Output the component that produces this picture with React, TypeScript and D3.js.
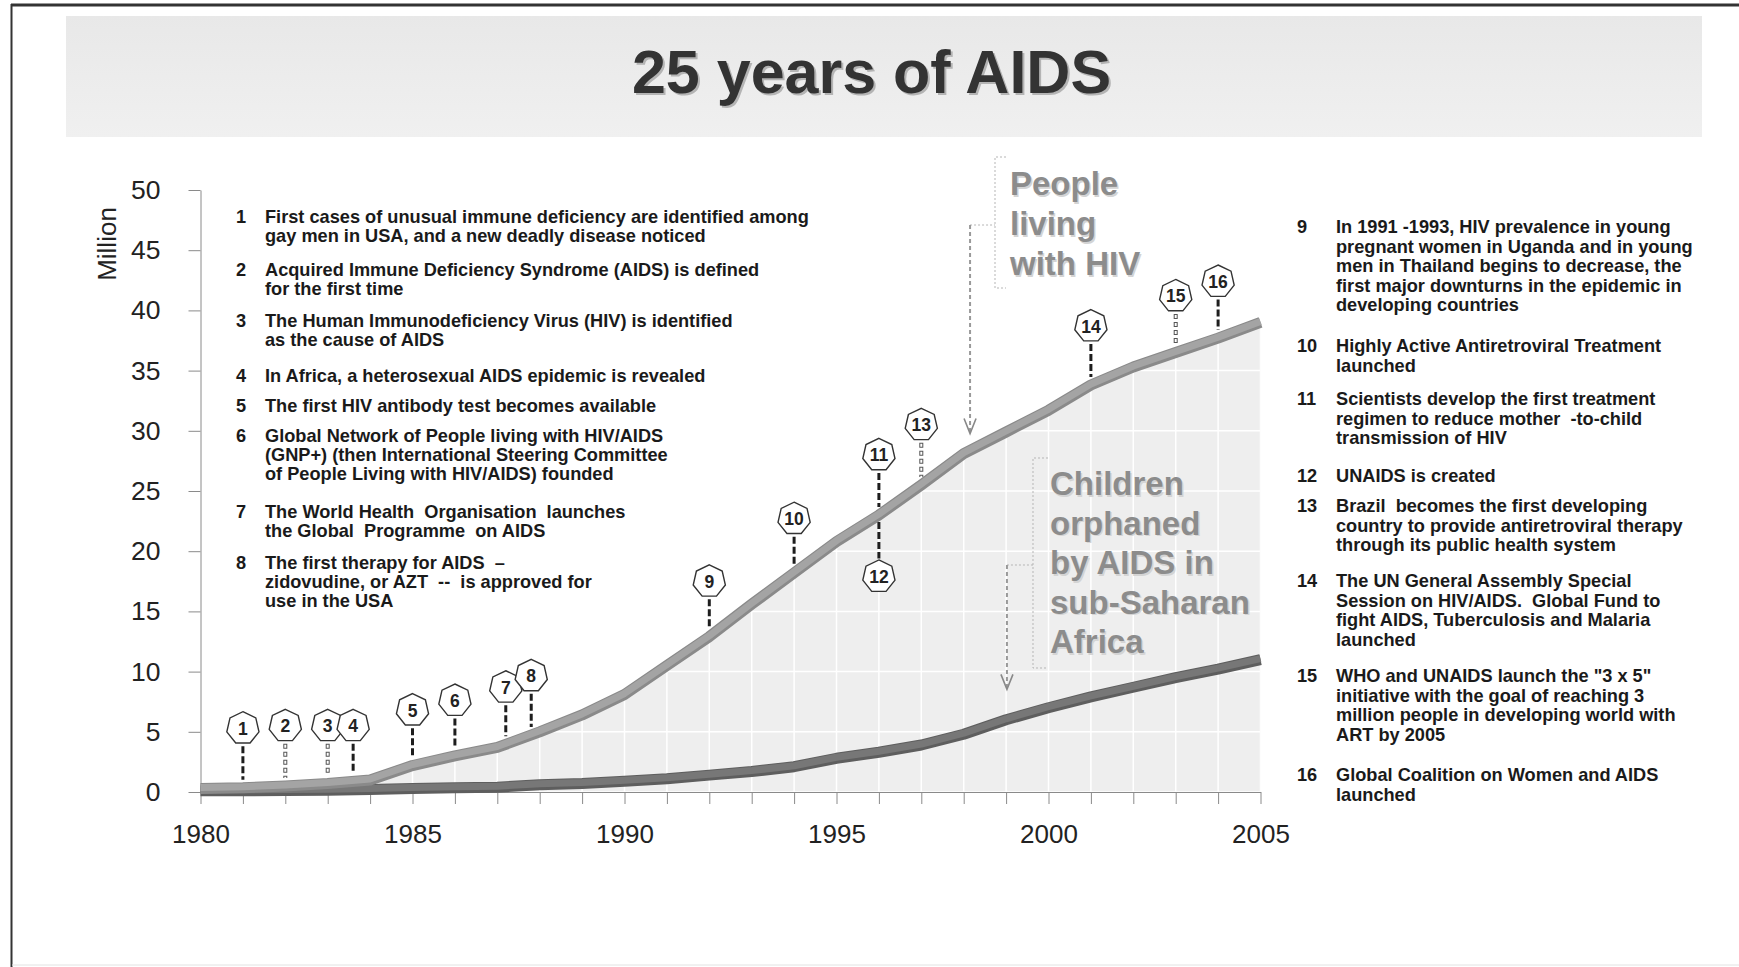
import { useEffect, useRef } from "react";
import * as d3 from "d3";

// ---- data (millions) ----
const years = [1980, 1981, 1982, 1983, 1984, 1985, 1986, 1987, 1988, 1989, 1990, 1991, 1992,
  1993, 1994, 1995, 1996, 1997, 1998, 1999, 2000, 2001, 2002, 2003, 2004, 2005];
const peopleLivingWithHIV = [0.3, 0.35, 0.5, 0.7, 1.0, 2.2, 3.0, 3.7, 5.0, 6.4, 8.1, 10.5, 12.9,
  15.6, 18.2, 20.8, 23.0, 25.5, 28.1, 29.9, 31.7, 33.8, 35.3, 36.5, 37.7, 39.0];
const childrenOrphaned = [0.1, 0.1, 0.12, 0.15, 0.2, 0.3, 0.35, 0.4, 0.6, 0.7, 0.9, 1.1, 1.4,
  1.7, 2.1, 2.8, 3.3, 3.9, 4.8, 6.0, 7.0, 7.9, 8.7, 9.5, 10.2, 11.0];
const yTicks = [0, 5, 10, 15, 20, 25, 30, 35, 40, 45, 50];
const xLabelYears = [1980, 1985, 1990, 1995, 2000, 2005];

// milestone badges: number, year, badge level (million)
const eventNumbers = [1, 2, 3, 4, 5, 6, 7, 8, 9, 10, 11, 12, 13, 14, 15, 16];
const eventYears = [1981, 1982, 1983, 1983.6, 1985, 1986, 1987.2, 1987.8, 1992, 1994, 1996, 1996, 1997, 2001, 2003, 2004];
const badgeLevels = [5.3, 5.5, 5.5, 5.5, 6.8, 7.6, 8.7, 9.65, 17.5, 22.7, 28.0, 17.9, 30.5, 38.7, 41.2, 42.4];
const hollowEvents = [2, 3, 13, 15];
const belowEvents = [12];

const leftNotes = [
  ["First cases of unusual immune deficiency are identified among", "gay men in USA, and a new deadly disease noticed"],
  ["Acquired Immune Deficiency Syndrome (AIDS) is defined", "for the first time"],
  ["The Human Immunodeficiency Virus (HIV) is identified", "as the cause of AIDS"],
  ["In Africa, a heterosexual AIDS epidemic is revealed"],
  ["The first HIV antibody test becomes available"],
  ["Global Network of People living with HIV/AIDS", "(GNP+) (then International Steering Committee", "of People Living with HIV/AIDS) founded"],
  ["The World Health  Organisation  launches", "the Global  Programme  on AIDS"],
  ["The first therapy for AIDS  \u2013", "zidovudine, or AZT  --  is approved for", "use in the USA"],
];
const rightNotes = [
  ["In 1991 -1993, HIV prevalence in young", "pregnant women in Uganda and in young", "men in Thailand begins to decrease, the", "first major downturns in the epidemic in", "developing countries"],
  ["Highly Active Antiretroviral Treatment", "launched"],
  ["Scientists develop the first treatment", "regimen to reduce mother  -to-child", "transmission of HIV"],
  ["UNAIDS is created"],
  ["Brazil  becomes the first developing", "country to provide antiretroviral therapy", "through its public health system"],
  ["The UN General Assembly Special", "Session on HIV/AIDS.  Global Fund to", "fight AIDS, Tuberculosis and Malaria", "launched"],
  ["WHO and UNAIDS launch the \"3 x 5\"", "initiative with the goal of reaching 3", "million people in developing world with", "ART by 2005"],
  ["Global Coalition on Women and AIDS", "launched"],
];
const hivLabel = ["People", "living", "with HIV"];
const orphanLabel = ["Children", "orphaned", "by AIDS in", "sub-Saharan", "Africa"];

// ---- layout ----
const W = 1739;
const H = 967;
const leftNoteY = [223, 276, 327, 382, 412, 442, 518, 569];
const rightNoteY = [233, 352, 405, 482, 512, 587, 682, 781];
const FONT = "'Liberation Sans', Arial, sans-serif";

const x = d3.scaleLinear().domain([1980, 2005]).range([200.5, 1260.5]);
const y = d3.scaleLinear().domain([0, 50]).range([792, 190]);
const hivAt = d3.scaleLinear().domain(years).range(peopleLivingWithHIV);
const orphAt = d3.scaleLinear().domain(years).range(childrenOrphaned);

const hivPts = years.map((yr, i) => [yr, peopleLivingWithHIV[i]] as [number, number]);
const orphPts = years.map((yr, i) => [yr, childrenOrphaned[i]] as [number, number]);
const line = d3.line<[number, number]>().x((d) => x(d[0])).y((d) => y(d[1]));
const area = d3.area<[number, number]>().x((d) => x(d[0])).y0(y(0)).y1((d) => y(d[1]));

const heptagon = (cx: number, cy: number, r: number) =>
  d3.range(7).map((i) => {
    const a = -Math.PI / 2 + (i * 2 * Math.PI) / 7;
    return `${cx + r * Math.cos(a)},${cy + r * Math.sin(a)}`;
  }).join(" ");

export default function App() {
  const xAxisRef = useRef<SVGGElement>(null);
  const yAxisRef = useRef<SVGGElement>(null);

  useEffect(() => {
    const ya = d3.select(yAxisRef.current!);
    ya.call(d3.axisLeft(y).tickValues(yTicks).tickSize(12).tickSizeOuter(0).tickPadding(28));
    ya.selectAll("text").attr("font-size", 26.5).attr("font-family", FONT).attr("fill", "#222");
    ya.selectAll("line, path").attr("stroke", "#8a8a8a");

    const xa = d3.select(xAxisRef.current!);
    xa.call(
      d3.axisBottom(x).tickValues(years).tickSize(12).tickSizeOuter(0).tickPadding(21)
        .tickFormat((d) => (xLabelYears.includes(+d) ? String(d) : ""))
    );
    xa.selectAll("text").attr("font-size", 26).attr("font-family", FONT).attr("fill", "#222");
    xa.selectAll("line, path").attr("stroke", "#8a8a8a");
  }, []);

  const arrowHiv = { yr: 1998.15 };
  const arrowOrph = { yr: 1999.02 };
  const hivTip = y(hivAt(arrowHiv.yr) + 1.4);
  const orphTip = y(orphAt(arrowOrph.yr) + 2.5);

  return (
    <div style={{ position: "absolute", left: 0, top: 0 }}>
      <svg width={W} height={H} style={{ display: "block", background: "#fff" }}>
        <defs>
          <linearGradient id="band" x1="0" y1="0" x2="0" y2="1">
            <stop offset="0" stopColor="#e8e8e8" />
            <stop offset="1" stopColor="#f0f0f0" />
          </linearGradient>
          <clipPath id="underHiv">
            <path d={area(hivPts) ?? ""} />
          </clipPath>
        </defs>

        {/* frame */}
        <line x1={11} x2={W} y1={5} y2={5} stroke="#333" strokeWidth={3} />
        <line x1={11.5} x2={11.5} y1={4} y2={H} stroke="#333" strokeWidth={2} />
        <line x1={12} x2={W} y1={965} y2={965} stroke="#e2e2e2" strokeWidth={1} />

        {/* title band */}
        <rect x={66} y={16} width={1636} height={121} fill="url(#band)" />
        <text x={873.5} y={95} textAnchor="middle" fontFamily={FONT} fontWeight="bold" fontSize={61} fill="#b4b4b4">25 years of AIDS</text>
        <text x={871.5} y={93} textAnchor="middle" fontFamily={FONT} fontWeight="bold" fontSize={61} fill="#333">25 years of AIDS</text>

        {/* shaded area under HIV curve with white grid */}
        <g clipPath="url(#underHiv)">
          <rect x={x(1980)} y={y(50)} width={x(2005) - x(1980)} height={y(0) - y(50)} fill="#eeeeee" />
          {years.map((yr) => (
            <line key={yr} x1={x(yr)} x2={x(yr)} y1={y(50)} y2={y(0)} stroke="#fff" strokeWidth={1.5} />
          ))}
          {yTicks.map((t) => (
            <line key={t} x1={x(1980)} x2={x(2005)} y1={y(t)} y2={y(t)} stroke="#fff" strokeWidth={1.5} />
          ))}
        </g>

        <g ref={yAxisRef} transform={`translate(${x(1980)},0)`} />
        <g ref={xAxisRef} transform={`translate(0,${y(0)})`} />
        <text transform={`translate(116,244) rotate(-90)`} textAnchor="middle" fontFamily={FONT} fontSize={26} fill="#222">Million</text>

        {/* series lines */}
        <path d={line(orphPts) ?? ""} fill="none" stroke="#5e5e5e" strokeWidth={11} strokeLinejoin="round" />
        <path d={line(orphPts) ?? ""} fill="none" stroke="#777" strokeWidth={7} strokeLinejoin="round" transform="translate(0,-1)" />
        <path d={line(hivPts) ?? ""} fill="none" stroke="#8a8a8a" strokeWidth={11} strokeLinejoin="round" />
        <path d={line(hivPts) ?? ""} fill="none" stroke="#a4a4a4" strokeWidth={7} strokeLinejoin="round" transform="translate(0,-1)" />

        {/* milestone badges */}
        {eventNumbers.map((n, i) => {
          const cx = x(eventYears[i]);
          const cy = y(badgeLevels[i]);
          const curve = y(hivAt(eventYears[i]));
          const below = belowEvents.includes(n);
          const y1 = below ? curve + 7 : cy + 18;
          const y2 = below ? cy - 18 : curve - 8;
          const hollow = hollowEvents.includes(n);
          return (
            <g key={n}>
              {hollow ? (
                <>
                  <line x1={cx} x2={cx} y1={y1} y2={y2} stroke="#555" strokeWidth={4} strokeDasharray="5 3" />
                  <line x1={cx} x2={cx} y1={y1 + 1} y2={y2} stroke="#fff" strokeWidth={2} strokeDasharray="3 5" />
                </>
              ) : (
                <line x1={cx} x2={cx} y1={y1} y2={y2} stroke="#1e1e1e" strokeWidth={3} strokeDasharray="7 3" />
              )}
              <polygon points={heptagon(cx, cy, 16.5)} fill="#fff" stroke="#333" strokeWidth={1.4} />
              <text x={cx} y={cy + 6.5} textAnchor="middle" fontFamily={FONT} fontWeight="bold" fontSize={17.5} fill="#222">{n}</text>
            </g>
          );
        })}

        {/* People living with HIV label + arrow */}
        <g stroke="#b5b5b5" strokeWidth={1} strokeDasharray="2 2" fill="none">
          <polyline points={`1006,157 995,157 995,288 1006,288`} />
          <line x1={x(arrowHiv.yr)} x2={995} y1={225} y2={225} />
        </g>
        <line x1={x(arrowHiv.yr)} x2={x(arrowHiv.yr)} y1={225} y2={hivTip - 2} stroke="#999" strokeWidth={2} strokeDasharray="4 3" />
        <polyline points={`${x(arrowHiv.yr) - 6},${hivTip - 15} ${x(arrowHiv.yr)},${hivTip} ${x(arrowHiv.yr) + 6},${hivTip - 15}`} fill="none" stroke="#888" strokeWidth={1.6} />
        {hivLabel.map((s, i) => (
          <g key={s}>
            <text x={1011.5} y={196.5 + i * 40} fontFamily={FONT} fontWeight="bold" fontSize={33} fill="#d4d4d4">{s}</text>
            <text x={1010} y={195 + i * 40} fontFamily={FONT} fontWeight="bold" fontSize={33} fill="#8c8c8c">{s}</text>
          </g>
        ))}

        {/* Children orphaned label + arrow */}
        <g stroke="#b5b5b5" strokeWidth={1} strokeDasharray="2 2" fill="none">
          <polyline points={`1048,458 1033,458 1033,668 1048,668`} />
          <line x1={x(arrowOrph.yr)} x2={1033} y1={565} y2={565} />
        </g>
        <line x1={x(arrowOrph.yr)} x2={x(arrowOrph.yr)} y1={565} y2={orphTip - 2} stroke="#999" strokeWidth={2} strokeDasharray="4 3" />
        <polyline points={`${x(arrowOrph.yr) - 6},${orphTip - 15} ${x(arrowOrph.yr)},${orphTip} ${x(arrowOrph.yr) + 6},${orphTip - 15}`} fill="none" stroke="#888" strokeWidth={1.6} />
        {orphanLabel.map((s, i) => (
          <g key={s}>
            <text x={1051.5} y={496.5 + i * 39.5} fontFamily={FONT} fontWeight="bold" fontSize={33} fill="#d4d4d4">{s}</text>
            <text x={1050} y={495 + i * 39.5} fontFamily={FONT} fontWeight="bold" fontSize={33} fill="#8c8c8c">{s}</text>
          </g>
        ))}

        {/* notes, left */}
        <g fontFamily={FONT} fontWeight="bold" fontSize={18.2} fill="#1a1a1a">
          {leftNotes.map((lines, i) => (
            <g key={i}>
              <text x={236} y={leftNoteY[i]}>{i + 1}</text>
              {lines.map((s, j) => (
                <text key={j} x={265} y={leftNoteY[i] + j * 19} style={{ whiteSpace: "pre" }}>{s}</text>
              ))}
            </g>
          ))}
        </g>

        {/* notes, right */}
        <g fontFamily={FONT} fontWeight="bold" fontSize={18.2} fill="#1a1a1a">
          {rightNotes.map((lines, i) => (
            <g key={i}>
              <text x={1297} y={rightNoteY[i]}>{i + 9}</text>
              {lines.map((s, j) => (
                <text key={j} x={1336} y={rightNoteY[i] + j * 19.5} style={{ whiteSpace: "pre" }}>{s}</text>
              ))}
            </g>
          ))}
        </g>
      </svg>
    </div>
  );
}
